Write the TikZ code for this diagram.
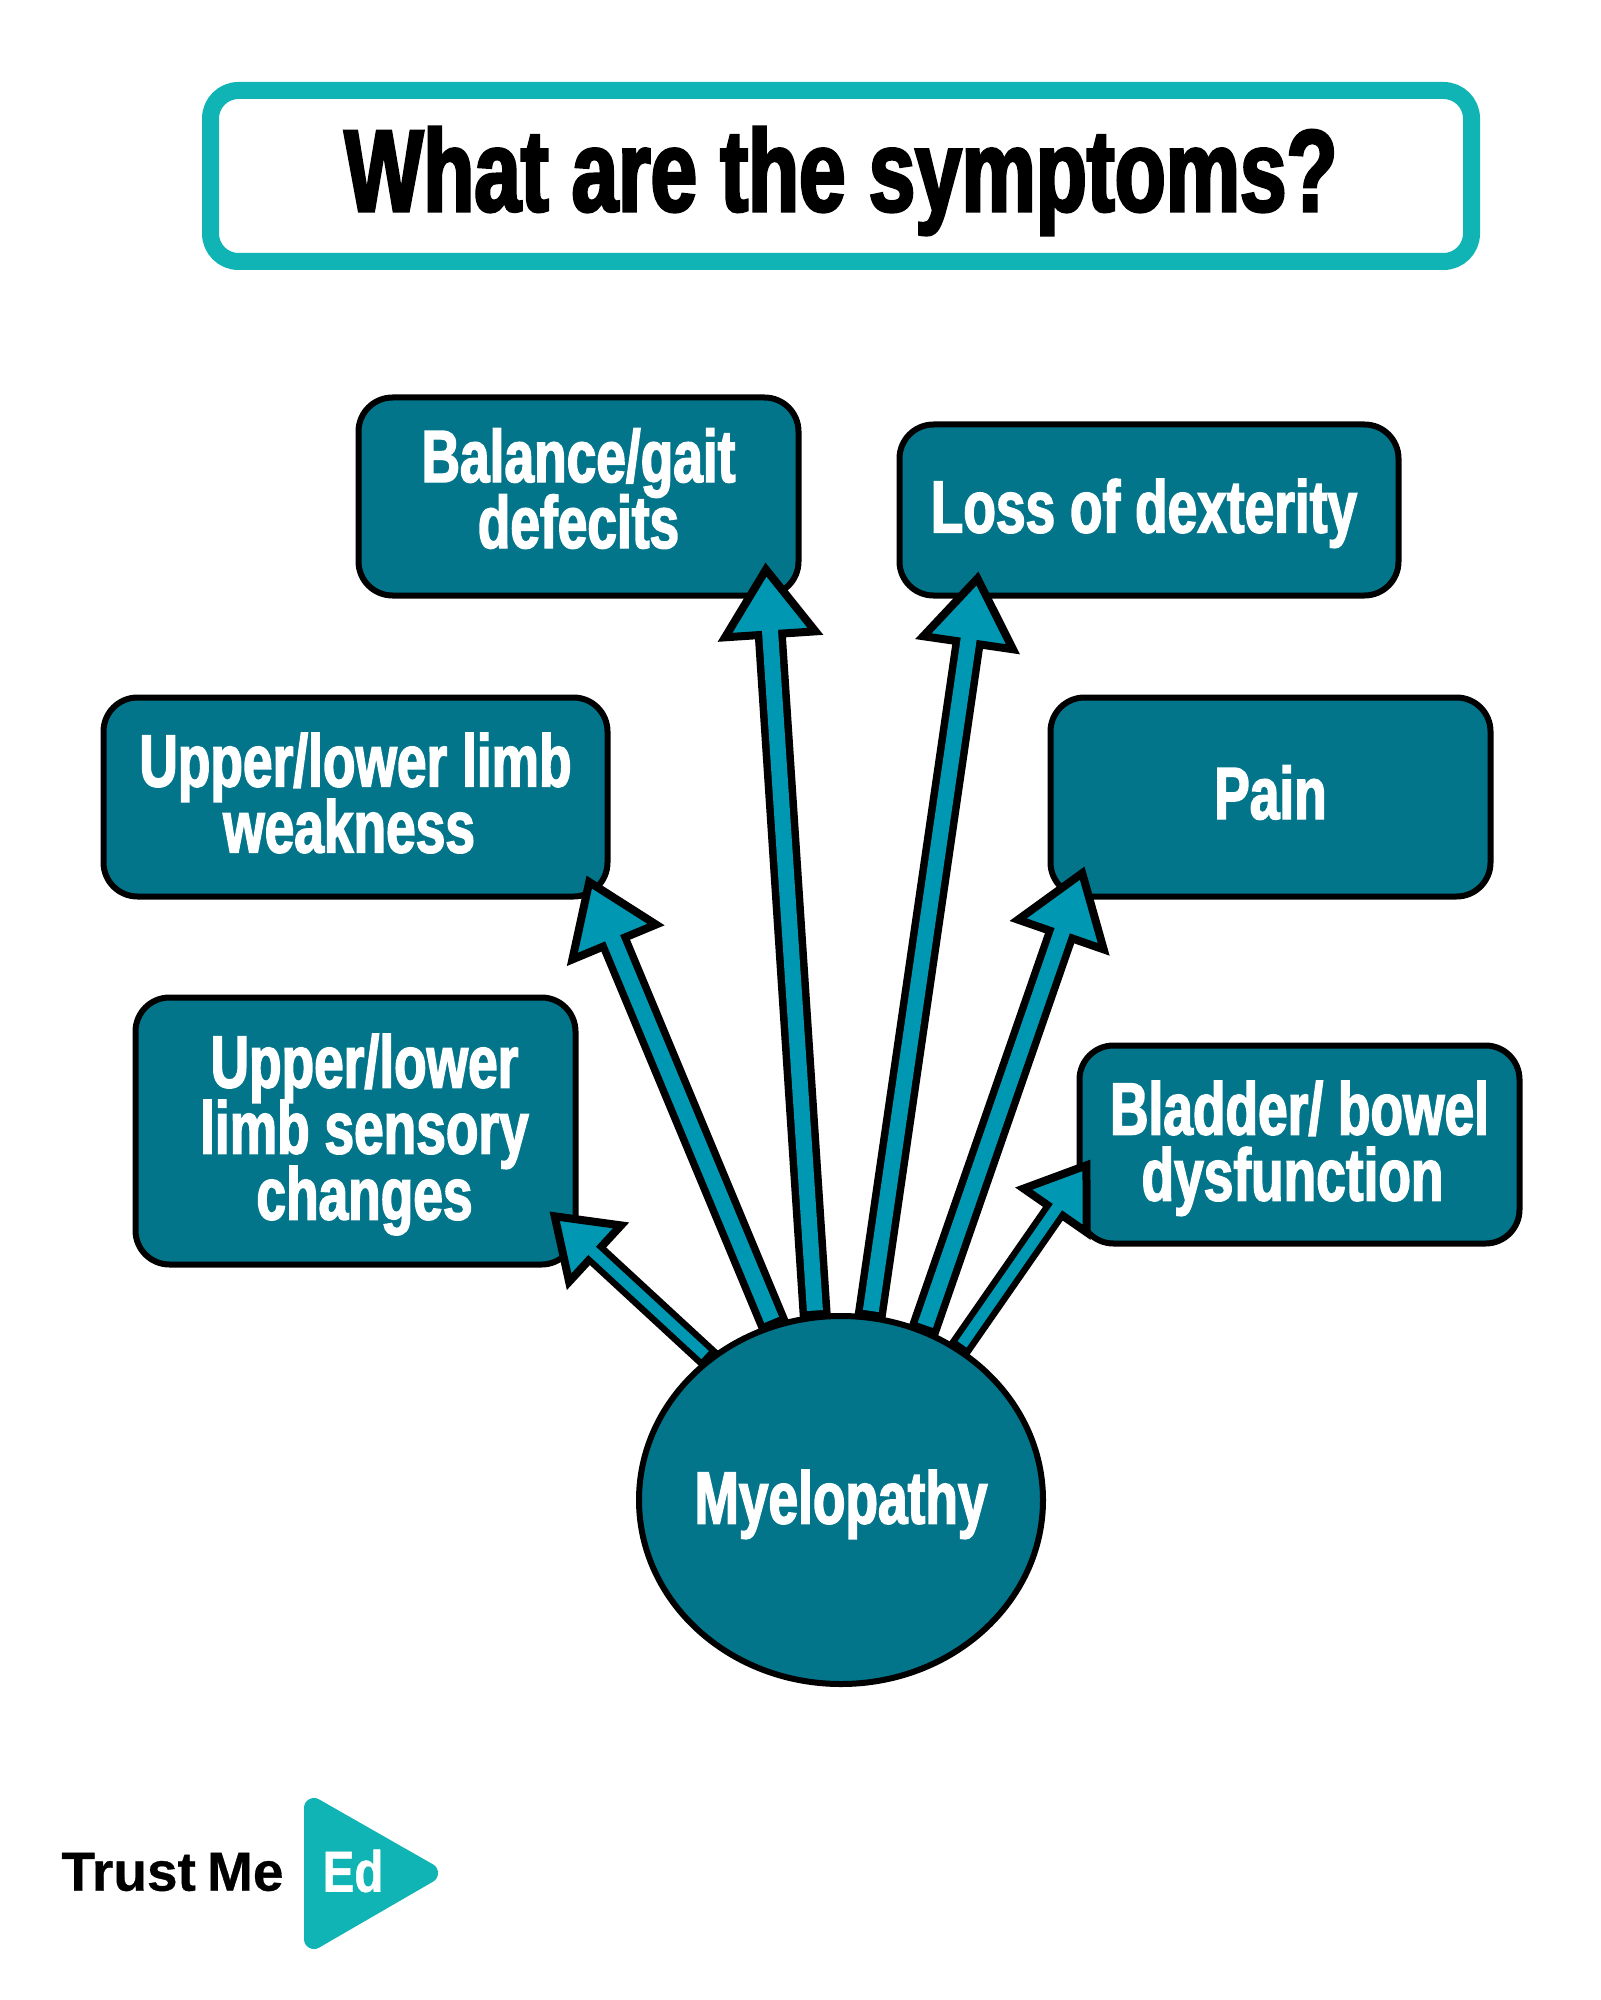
\documentclass[tikz,border=0pt]{standalone}
\usepackage{fontspec}
\usetikzlibrary{arrows.meta,calc,shapes.geometric}
\newfontfamily\anton[FakeStretch=0.72,FakeBold=2]{Liberation Sans Bold}
\newfontfamily\antontitle[FakeStretch=0.72,FakeBold=2.6]{Liberation Sans Bold}
\newfontfamily\logofont[FakeBold=0.6]{Liberation Sans Bold}
\newfontfamily\edfont[FakeStretch=0.82,FakeBold=0.8]{Liberation Sans Bold}
\definecolor{boxfill}{HTML}{02758B}
\definecolor{arrowfill}{HTML}{0097B2}
\definecolor{brand}{HTML}{10B4B4}
\pgfdeclarelayer{boxes}
\pgfdeclarelayer{arrows}
\pgfsetlayers{boxes,arrows,main}
\lineskiplimit=-60pt
\tikzset{
  labelfont/.style={font=\anton\fontsize{37}{33}\selectfont},
  lastline/.style={text depth=0pt,text height=#1},
  symbox/.style={draw=black,fill=boxfill,line width=3pt,rounded corners=17pt,text=white,align=center,
    labelfont,inner sep=0pt,outer sep=0pt},
  hubnode/.style={ellipse,draw=black,fill=boxfill,line width=3pt,text=white,inner sep=0pt,outer sep=0pt,
    minimum width=202pt,minimum height=184pt,labelfont},
  titlebox/.style={draw=brand,fill=white,line width=8.5pt,rounded corners=14pt,inner sep=0pt,outer sep=0pt,
    minimum width=630.5pt,minimum height=85.5pt,text=black,font=\antontitle\fontsize{58}{60}\selectfont},
}
% from, to, outer width, head length, head width, inner width
\newcommand{\symarrow}[6]{%
  \draw[line width=#3pt,black,-{Triangle[length=#4pt,width=#5pt,line width=4pt,fill=arrowfill]}] (#1) -- (#2);
  \draw[line width=#6pt,arrowfill,shorten >=#4pt-5pt,shorten <=3.5pt] (#1) -- (#2);
}
\begin{document}
\begin{tikzpicture}[x=0.5pt,y=-0.5pt]
\useasboundingbox (0,0) rectangle (1600,2000);

\node[titlebox,lastline=35pt] (title) at (841,176) {What are the symptoms?};

\begin{pgfonlayer}{boxes}
\fill[white] (0,0) rectangle (1600,2000);
\node[symbox,lastline=51.5pt,minimum width=220pt,minimum height=99pt] (balance) at (578.5,496.5) {Balance/gait\\defecits};
\node[symbox,lastline=22.5pt,minimum width=249.5pt,minimum height=85.5pt] (loss) at (1149,510) {Loss of dexterity\hspace*{5pt}};
\node[symbox,lastline=55.5pt,minimum width=252pt,minimum height=99.5pt] (weakness) at (355.5,797) {Upper/lower limb\\weakness\hspace*{6.4pt}};
\node[symbox,lastline=22pt,minimum width=220pt,minimum height=99.5pt] (pain) at (1270.5,797) {Pain};
\node[symbox,lastline=88.5pt,minimum width=220pt,minimum height=133.5pt] (sensory) at (355.5,1131) {\hspace*{9pt}Upper/lower\\\hspace*{9pt}limb sensory\\\hspace*{9pt}changes};
\node[symbox,lastline=56pt,minimum width=220pt,minimum height=99pt] (bladder) at (1299.5,1144.5) {Bladder/ bowel\\dysfunction\hspace*{7pt}};
\end{pgfonlayer}

\node[hubnode,lastline=23.5pt] (hub) at (841,1500) {\makebox[0pt]{Myelopathy}};

\coordinate (tbalance) at ($(balance.south east)+(-33,-33)$);
\coordinate (tloss) at ($(loss.south west)+(79,-24)$);
\coordinate (tweakness) at ($(weakness.south east)+(-21,-21)$);
\coordinate (tpain) at ($(pain.south west)+(34,-30)$);
\coordinate (tsensory) at ($(sensory.south east)+(-26,-53)$);
\coordinate (tbladder) at ($(bladder.south west)+(11,-84)$);

\begin{pgfonlayer}{arrows}
\symarrow{hub.98}{tbalance}{15.5}{38}{52}{8}
\symarrow{hub.81}{tloss}{15.5}{38}{52}{8}
\symarrow{hub.111}{tweakness}{15.5}{38}{52}{8}
\symarrow{hub.64.6}{tpain}{15.5}{38}{52}{8}
\symarrow{hub.133.8}{tsensory}{12}{33}{45}{5.5}
\symarrow{hub.52.3}{tbladder}{12}{33}{45}{5.5}
\end{pgfonlayer}

\node[anchor=west,inner sep=0pt,font=\logofont\fontsize{27.5}{30}\selectfont,text=black] (trust) at (61,1872) {Trust\kern-2pt\ Me};
\fill[brand,draw=brand,line width=10pt,line join=round] (314,1808) -- (428,1873) -- (314,1939) -- cycle;
\node[inner sep=0pt,font=\edfont\fontsize{29}{30}\selectfont,text=white] (ed) at (353,1871) {Ed};
\end{tikzpicture}
\end{document}
